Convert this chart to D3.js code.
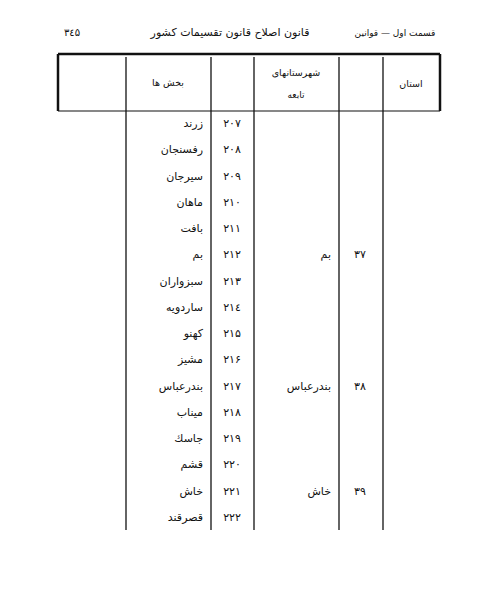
<!DOCTYPE html>
<html><head><meta charset="utf-8">
<script src="https://cdn.jsdelivr.net/npm/d3@7"></script>
<style>body{margin:0;background:#fff}</style>
</head><body>
<script>
const rowNumbers = ["۲۰۷","۲۰۸","۲۰۹","۲۱۰","۲۱۱","۲۱۲","۲۱۳","۲۱٤","۲۱۵","۲۱۶","۲۱۷","۲۱۸","۲۱۹","۲۲۰","۲۲۱","۲۲۲"];
const bakhshNames = ["زرند","رفسنجان","سیرجان","ماهان","بافت","بم","سبزواران","ساردویه","کهنو","مشیز","بندرعباس","میناب","جاسك","قشم","خاش","قصرقند"];
const shahrestanRows = [5,10,14];
const shahrestanNames = ["بم","بندرعباس","خاش"];
const shahrestanNumbers = ["۳۷","۳۸","۳۹"];
const headers = ["استان","شهرستانهای","تابعه","بخش ها"];
const pageTitle = "قانون اصلاح قانون تقسیمات کشور";
const pageSection = "قسمت اول — قوانین";
const pageNumber = "۳٤۵";

(function(){
const W=478,H=600;
const svg=d3.select("body").append("svg").attr("width",W).attr("height",H);
const font="'DejaVu Sans', 'Noto Sans', sans-serif";
const y=d3.scaleBand().domain(d3.range(rowNumbers.length)).range([110,530]);
const cols={left:58,c1:126,c2:211,c3:254,c4:339,c5:383,right:440};
const tTop=54,hb=111,bottom=530;

const T=(x,yy,s,fs,anchor)=>svg.append("text").attr("x",x).attr("y",yy).attr("text-anchor",anchor||"middle").attr("font-size",fs).attr("font-family",font).attr("fill","#111").text(s);
T(72,36,pageNumber,10);
T(230,36,pageTitle,11);
T(395,36,pageSection,9);

const L=(x1,y1,x2,y2,w)=>svg.append("line").attr("x1",x1).attr("y1",y1).attr("x2",x2).attr("y2",y2).attr("stroke","#111").attr("stroke-width",w);
L(cols.left,tTop,cols.right,tTop,2.5);
L(cols.left,hb,cols.right,hb,1.2);
L(cols.left,tTop,cols.left,hb,2.5);
L(cols.right,tTop,cols.right,hb,2.5);
[cols.c1,cols.c2,cols.c3,cols.c4,cols.c5].forEach(x=>L(x,tTop+3,x,bottom,1.3));

T(411,87,headers[0],9.5);
T(296,76,headers[1],9.5);
T(296,98,headers[2],9);
T(168,86,headers[3],9.5);

rowNumbers.forEach((n,i)=>{
  const cy=y(i)+y.bandwidth()/2+4;
  T(232,cy,n,11);
  T(203,cy,bakhshNames[i],11,"end");
});
shahrestanRows.forEach((r,k)=>{
  const cy=y(r)+y.bandwidth()/2+4;
  T(360,cy,shahrestanNumbers[k],11);
  T(331,cy,shahrestanNames[k],11,"end");
});
})();
</script>
</body></html>
